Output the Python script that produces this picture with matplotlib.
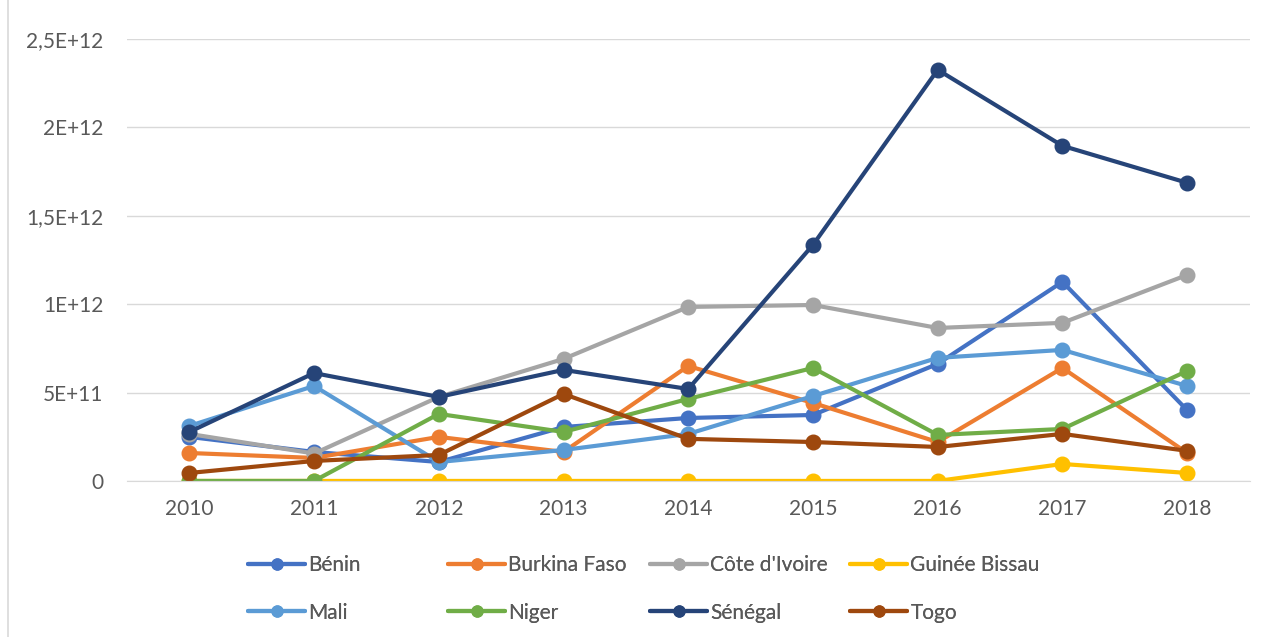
import numpy as np
import matplotlib.pyplot as plt
from matplotlib.ticker import FuncFormatter, MultipleLocator

years = [2010, 2011, 2012, 2013, 2014, 2015, 2016, 2017, 2018]

# valeurs en 1E12
benin = [0.249, 0.164, 0.107, 0.305, 0.356, 0.373, 0.662, 1.126, 0.400]
burkina = [0.158, 0.130, 0.249, 0.164, 0.650, 0.441, 0.220, 0.639, 0.158]
cote_ivoire = [0.266, 0.155, 0.475, 0.690, 0.984, 0.995, 0.865, 0.894, 1.165]
guinee_bissau = [0.0, 0.0, 0.0, 0.0, 0.0, 0.0, 0.0, 0.096, 0.045]
mali = [0.311, 0.537, 0.107, 0.175, 0.266, 0.480, 0.696, 0.741, 0.537]
niger = [0.0, 0.0, 0.379, 0.277, 0.464, 0.639, 0.260, 0.294, 0.622]
senegal = [0.277, 0.610, 0.475, 0.628, 0.520, 1.335, 2.325, 1.895, 1.686]
togo = [0.045, 0.113, 0.147, 0.492, 0.238, 0.220, 0.192, 0.266, 0.170]

names = ["Bénin", "Burkina Faso", "Côte d'Ivoire", "Guinée Bissau",
         "Mali", "Niger", "Sénégal", "Togo"]
series = [benin, burkina, cote_ivoire, guinee_bissau, mali, niger, senegal, togo]
colors = ["#4472C4", "#ED7D31", "#A5A5A5", "#FFC000",
          "#5B9BD5", "#70AD47", "#264478", "#9E480E"]

plt.rcParams['font.family'] = ['Lato', 'DejaVu Sans']

fig = plt.figure(figsize=(12.66, 6.37), dpi=100)
ax = fig.add_axes([0.1003, 0.245, 0.8867, 0.694])

lines = []
for name, vals, c in zip(names, series, colors):
    l, = ax.plot(years, np.array(vals) * 1e12, color=c, lw=3, marker='o',
                 markersize=10.5, label=name, solid_capstyle='round')
    lines.append(l)

ax.set_xlim(2009.5, 2018.5)
ax.set_ylim(0, 2.5e12)
ax.set_xticks(years)
ax.yaxis.set_major_locator(MultipleLocator(5e11))


def fmt(v, pos):
    labels = {0: "0", 1: "5E+11", 2: "1E+12", 3: "1,5E+12", 4: "2E+12", 5: "2,5E+12"}
    return labels.get(int(round(v / 5e11)), "")


ax.yaxis.set_major_formatter(FuncFormatter(fmt))
ax.grid(axis='y', color='#D9D9D9', lw=1)
ax.set_axisbelow(True)
for s in ['top', 'right', 'left']:
    ax.spines[s].set_visible(False)
ax.spines['bottom'].set_color('#D9D9D9')
ax.tick_params(axis='both', length=0, labelsize=15, colors='#595959')
ax.tick_params(axis='x', pad=13)
ax.tick_params(axis='y', pad=17)

# legende : 4 colonnes, 2 lignes (ordre par ligne)
col_x = [0.1959, 0.3539, 0.5134, 0.6714]
for k in range(4):
    leg = fig.legend([lines[k], lines[k + 4]], [names[k], names[k + 4]],
                     loc='upper left', bbox_to_anchor=(col_x[k], 0.128),
                     frameon=False, fontsize=15, labelcolor='#595959',
                     handlelength=2.75, handletextpad=0.15, labelspacing=1.3,
                     borderaxespad=0, borderpad=0, markerscale=0.75)
    fig.add_artist(leg)

# bordure du graphique
fig.add_artist(plt.Line2D([0.0065, 0.0065], [0, 1], transform=fig.transFigure,
                          color='#D9D9D9', lw=1.2))

fig.savefig('out.png', dpi=100)
